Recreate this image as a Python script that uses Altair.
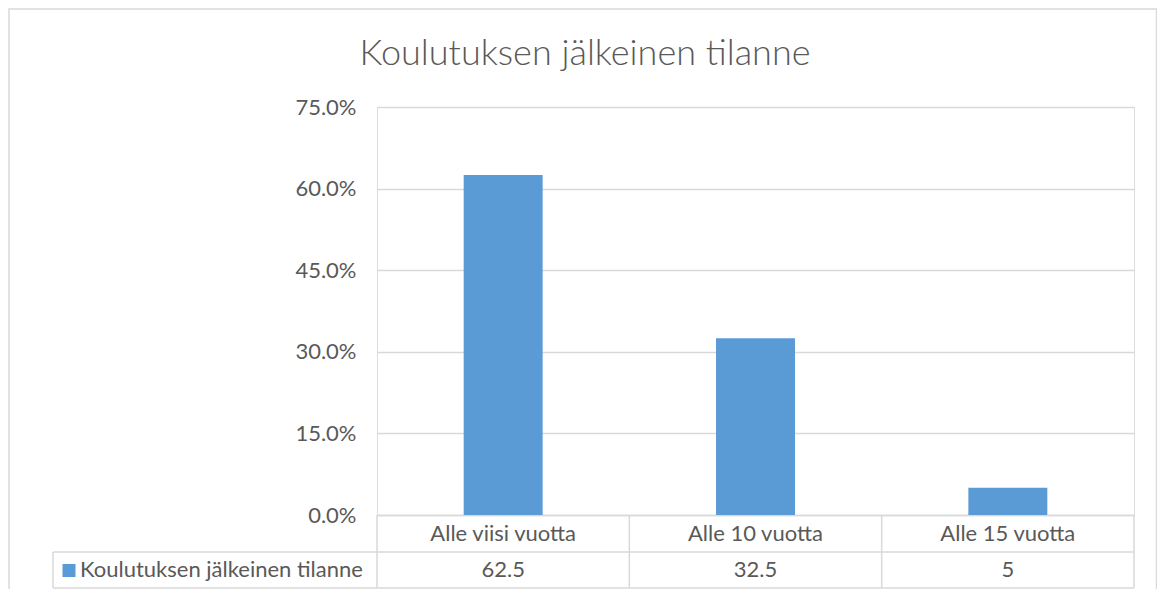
import altair as alt
import pandas as pd

# --- data ---
categories = ["Alle viisi vuotta", "Alle 10 vuotta", "Alle 15 vuotta"]
values = [62.5, 32.5, 5]
series_name = "Koulutuksen jälkeinen tilanne"
title_text = "Koulutuksen jälkeinen tilanne"
y_ticks = [0, 15, 30, 45, 60, 75]

df = pd.DataFrame({"cat": categories, "val": values, "series": [series_name] * 3})

BLUE = "#5b9bd5"
TXT = "#595959"
LINE = "#d9d9d9"
FONT = "Lato"
FS = 22
W, H = 757, 408

x_enc = alt.X("cat:N", sort=categories,
              scale=alt.Scale(paddingInner=0.687, paddingOuter=0.3435),
              axis=alt.Axis(labels=False, ticks=False, grid=False, title=None,
                            domain=True, domainColor=LINE, domainWidth=1.5))

base = alt.Chart(df)

bars = base.mark_bar(color=BLUE).encode(
    x=x_enc,
    y=alt.Y("val:Q", scale=alt.Scale(domain=[0, 75], nice=False),
            axis=alt.Axis(values=y_ticks, labelExpr="format(datum.value, '.1f') + '%'",
                          grid=True, gridColor=LINE, gridWidth=1.5, domain=False,
                          ticks=False, labelPadding=21, labelFontSize=FS,
                          labelColor=TXT, labelFont=FONT, title=None)),
)

one = alt.Data(values=[{}])

def rule(x1, x2, y1, y2):
    return alt.Chart(one).mark_rule(color=LINE, strokeWidth=1.5).encode(
        x=alt.value(x1), x2=alt.value(x2), y=alt.value(H + y1), y2=alt.value(H + y2))

step = W / 3.0
table_lines = [
    rule(0, 0, 0, 73),
    rule(step, step, 0, 73),
    rule(2 * step, 2 * step, 0, 73),
    rule(W, W, 0, 73),
    rule(-324, -324, 37, 73),
    rule(-324, W, 37, 37),
    rule(-324, W, 73, 73),
]

border = alt.Chart(one).mark_rect(fillOpacity=0, stroke=LINE, strokeWidth=1.5).encode(
    x=alt.value(-368), x2=alt.value(779.5), y=alt.value(-98), y2=alt.value(H + 120))

title = alt.Chart(one).mark_text(font=FONT, fontSize=36, fontWeight=300, color=TXT,
                                 align="center", baseline="alphabetic").encode(
    x=alt.value(208), y=alt.value(-42), text=alt.value(title_text))

cat_text = base.mark_text(font=FONT, fontSize=FS, color=TXT, baseline="alphabetic").encode(
    x=alt.X("cat:N", sort=categories), y=alt.value(H + 26), text="cat:N")

val_text = base.mark_text(font=FONT, fontSize=FS, color=TXT, baseline="alphabetic").encode(
    x=alt.X("cat:N", sort=categories), y=alt.value(H + 62), text=alt.Text("val:Q", format="~g"))

legend_sq = base.transform_filter(alt.datum.cat == categories[0]).mark_square(
    color=BLUE, size=169, opacity=1).encode(x=alt.value(-308), y=alt.value(H + 55.5))

legend_txt = base.transform_filter(alt.datum.cat == categories[0]).mark_text(
    font=FONT, fontSize=FS, color=TXT, align="left", baseline="alphabetic").encode(
    x=alt.value(-297), y=alt.value(H + 62), text="series:N")

chart = alt.layer(border, title, bars, *table_lines, cat_text, val_text, legend_sq, legend_txt).properties(
    width=W, height=H,
    autosize=alt.AutoSizeParams(type="none"),
    padding={"left": 369, "top": 99, "right": 23, "bottom": 74},
).configure_view(stroke=None).configure(background="white")

chart.save("out.html", embed_options={"renderer": "svg", "actions": False})
